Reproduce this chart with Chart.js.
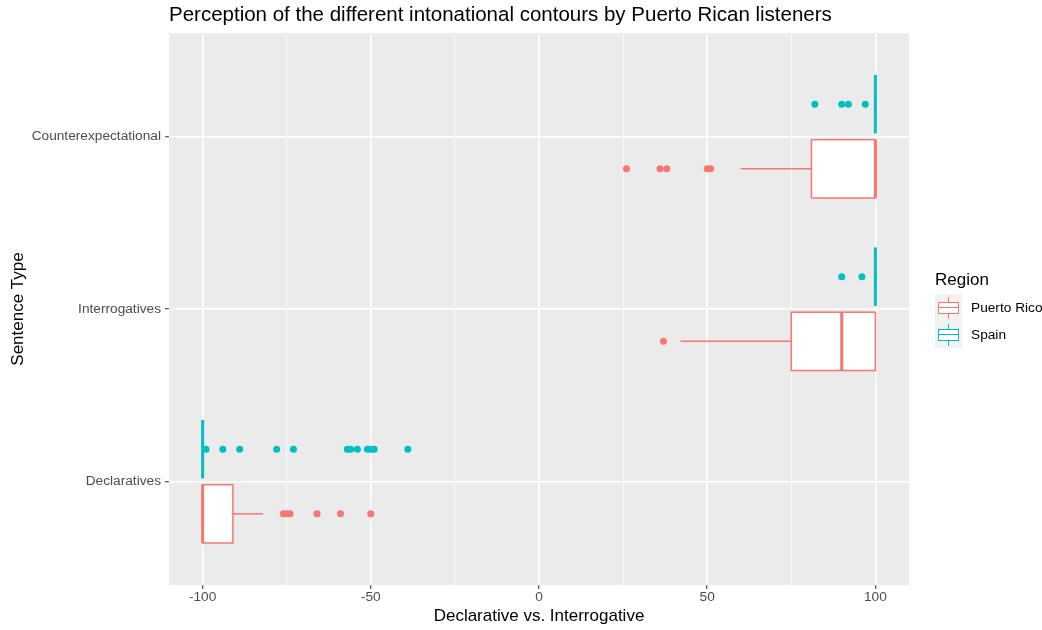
<!DOCTYPE html>
<html>
<head>
<meta charset="utf-8">
<script src="https://cdn.jsdelivr.net/npm/chart.js@4.4.0/dist/chart.umd.min.js"></script>
<style>
  html, body { margin: 0; padding: 0; background: #fff; }
  #wrap { position: relative; width: 1042px; height: 630px; font-family: "Liberation Sans", Arial, sans-serif; }
  #title { position: absolute; left: 169px; top: 2px; font-size: 20.5px; line-height: 24px; color: #000; white-space: nowrap; }
  #legend { position: absolute; left: 935px; top: 270px; white-space: nowrap; }
  #legend .lg-title { font-size: 17px; line-height: 20px; height: 24px; color: #000; }
  #legend .lg-row { display: flex; align-items: center; height: 27px; }
  #legend .key { position: relative; flex: none; width: 27px; height: 27px; background: #F2F2F2; }
  #legend .key span { position: absolute; display: block; }
  #legend .wh { left: 12.8px; top: 2.5px; width: 1.4px; height: 22px; background: var(--c); }
  #legend .bx { left: 3px; top: 7.5px; width: 21px; height: 12px; box-sizing: border-box; border: 1.4px solid var(--c); background: #fff; }
  #legend .md { left: 3px; top: 12.8px; width: 21px; height: 1.4px; background: var(--c); }
  #legend .lbl { margin-left: 9px; font-size: 13.7px; color: #000; white-space: nowrap; }
</style>
</head>
<body>
<div id="wrap">
  <canvas id="chart" width="1042" height="630"></canvas>
  <div id="title">Perception of the different intonational contours by Puerto Rican listeners</div>
  <div id="legend">
    <div class="lg-title">Region</div>
    <div class="lg-row"><div class="key" style="--c:#F8766D"><span class="wh"></span><span class="bx"></span><span class="md"></span></div><span class="lbl">Puerto Rico</span></div>
    <div class="lg-row"><div class="key" style="--c:#00BFC4"><span class="wh"></span><span class="bx"></span><span class="md"></span></div><span class="lbl">Spain</span></div>
  </div>
</div>
<script>
const categories = ['Declaratives', 'Interrogatives', 'Counterexpectational'];
const regions = ['Puerto Rico', 'Spain'];
const regionColors = ['#F8766D', '#00BFC4'];
const xMajorTicks = [-100, -50, 0, 50, 100];
const xMinorTicks = [-75, -25, 25, 75];

// one entry per category: Declaratives, Interrogatives, Counterexpectational
const prWhiskerLow = [-100, 42, 60];
const prQ1 = [-100, 75, 81];
const prMedian = [-100, 90, 100];
const prQ3 = [-91, 100, 100];
const prWhiskerHigh = [-82, 100, 100];
const prOutliers = [[-76, -75, -74, -66, -59, -50], [37], [26, 36, 38, 50, 51]];

const esWhiskerLow = [-100, 100, 100];
const esQ1 = [-100, 100, 100];
const esMedian = [-100, 100, 100];
const esQ3 = [-100, 100, 100];
const esWhiskerHigh = [-100, 100, 100];
const esOutliers = [[-99, -94, -89, -78, -73, -57, -56, -54, -51, -50, -49, -39], [90, 96], [82, 90, 92, 97]];

// dodge: Puerto Rico below the category line, Spain above
const dodge = [-0.1875, 0.1875];
const boxHalf = 0.169;

const groups = [
    { color: regionColors[0], offset: dodge[0], low: prWhiskerLow, q1: prQ1, med: prMedian, q3: prQ3, high: prWhiskerHigh },
    { color: regionColors[1], offset: dodge[1], low: esWhiskerLow, q1: esQ1, med: esMedian, q3: esQ3, high: esWhiskerHigh }
];

function outlierPoints(outliers, offset) {
    return outliers.flatMap((vals, i) => vals.map(v => ({ x: v, y: i + 1 + offset })));
}

const panelBg = {
    id: 'panelBg',
    beforeDraw(chart) {
        const { ctx, chartArea: a } = chart;
        ctx.save();
        ctx.fillStyle = '#EBEBEB';
        ctx.fillRect(a.left, a.top, a.right - a.left, a.bottom - a.top);
        ctx.restore();
    }
};

// boxes and whiskers, placed with the chart's own scales
const boxes = {
    id: 'boxes',
    beforeDatasetsDraw(chart) {
        const { ctx } = chart;
        const x = chart.scales.x, y = chart.scales.y;
        groups.forEach(g => {
            categories.forEach((cat, i) => {
                const pos = i + 1 + g.offset;
                const yc = y.getPixelForValue(pos);
                const yTop = y.getPixelForValue(pos + boxHalf);
                const yBot = y.getPixelForValue(pos - boxHalf);
                const xLo = x.getPixelForValue(g.low[i]);
                const xQ1 = x.getPixelForValue(g.q1[i]);
                const xMed = x.getPixelForValue(g.med[i]);
                const xQ3 = x.getPixelForValue(g.q3[i]);
                const xHi = x.getPixelForValue(g.high[i]);
                ctx.save();
                ctx.strokeStyle = g.color;
                ctx.lineWidth = 1.5;
                ctx.beginPath();
                ctx.moveTo(xLo, yc); ctx.lineTo(xQ1, yc);
                ctx.moveTo(xQ3, yc); ctx.lineTo(xHi, yc);
                ctx.stroke();
                ctx.fillStyle = '#fff';
                ctx.fillRect(xQ1, yTop, xQ3 - xQ1, yBot - yTop);
                ctx.strokeRect(xQ1, yTop, xQ3 - xQ1, yBot - yTop);
                ctx.lineWidth = 3;
                ctx.beginPath();
                ctx.moveTo(xMed, yTop); ctx.lineTo(xMed, yBot);
                ctx.stroke();
                ctx.restore();
            });
        });
    }
};

const tickFont = { family: '"Liberation Sans", Arial, sans-serif', size: 13.7 };
const titleFont = { family: '"Liberation Sans", Arial, sans-serif', size: 17 };

new Chart(document.getElementById('chart'), {
    type: 'scatter',
    data: {
        datasets: regions.map((name, r) => ({
            label: name,
            data: outlierPoints(r === 0 ? prOutliers : esOutliers, dodge[r]),
            backgroundColor: regionColors[r],
            borderWidth: 0,
            pointRadius: 3.5,
            pointHoverRadius: 3.5
        }))
    },
    options: {
        responsive: false,
        devicePixelRatio: 1,
        animation: false,
        layout: { padding: { top: 33, right: 133, bottom: 0, left: 0 } },
        plugins: {
            legend: { display: false },
            tooltip: { enabled: false }
        },
        scales: {
            x: {
                type: 'linear',
                min: -110,
                max: 110,
                afterBuildTicks: s => {
                    s.ticks = xMajorTicks.concat(xMinorTicks).sort((a, b) => a - b).map(v => ({ value: v }));
                },
                afterFit: s => { s.height = 45; },
                border: { display: false },
                grid: {
                    color: '#FFFFFF',
                    lineWidth: c => xMajorTicks.includes(c.tick.value) ? 1.5 : 0.75,
                    tickColor: c => xMajorTicks.includes(c.tick.value) ? '#333333' : 'rgba(0,0,0,0)',
                    tickLength: 4,
                    tickWidth: 1
                },
                ticks: {
                    autoSkip: false,
                    maxRotation: 0,
                    padding: 0,
                    color: '#4D4D4D',
                    font: tickFont,
                    callback: v => xMajorTicks.includes(v) ? String(v) : ''
                },
                title: {
                    display: true,
                    text: 'Declarative vs. Interrogative',
                    color: '#000',
                    font: titleFont,
                    padding: { top: 2, bottom: 3 }
                }
            },
            y: {
                type: 'linear',
                min: 0.4,
                max: 3.6,
                afterBuildTicks: s => {
                    s.ticks = categories.map((c, i) => ({ value: i + 1 }));
                },
                afterFit: s => { s.width = 169; },
                border: { display: false },
                grid: {
                    color: '#FFFFFF',
                    lineWidth: 1.5,
                    tickColor: '#333333',
                    tickLength: 4,
                    tickWidth: 1
                },
                ticks: {
                    autoSkip: false,
                    padding: 4,
                    color: '#4D4D4D',
                    font: tickFont,
                    callback: v => categories[v - 1]
                },
                title: {
                    display: true,
                    text: 'Sentence Type',
                    color: '#000',
                    font: titleFont,
                    padding: { top: 8, bottom: 0 }
                }
            }
        }
    },
    plugins: [panelBg, boxes]
});
</script>
</body>
</html>
